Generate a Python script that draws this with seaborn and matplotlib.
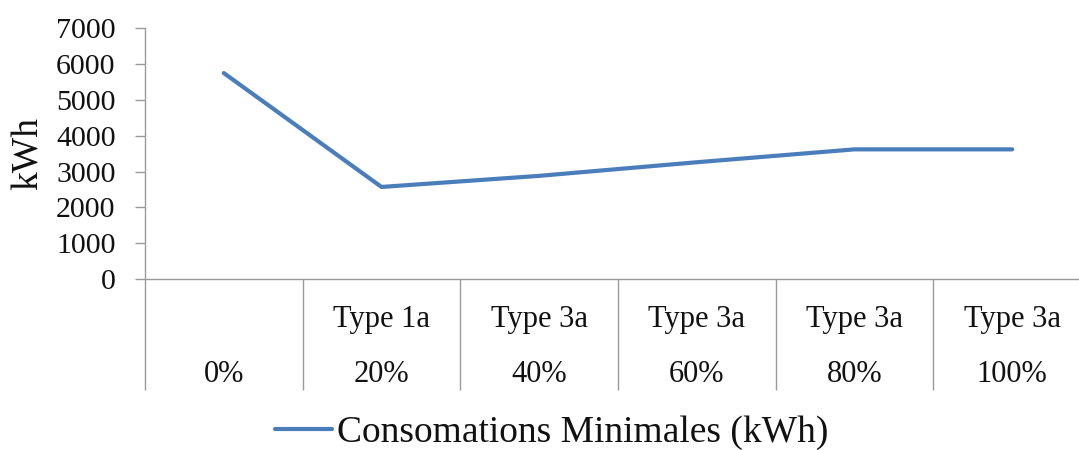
import matplotlib
matplotlib.use("Agg")
import matplotlib.pyplot as plt
import seaborn as sns
import pandas as pd

# Data
pct_labels = ["0%", "20%", "40%", "60%", "80%", "100%"]
type_labels = ["", "Type 1a", "Type 3a", "Type 3a", "Type 3a", "Type 3a"]
consommation = [5750, 2570, 2880, 3260, 3620, 3620]
series_name = "Consomations Minimales (kWh)"
y_ticks = [0, 1000, 2000, 3000, 4000, 5000, 6000, 7000]
y_label = "kWh"

df = pd.DataFrame({"cat": pct_labels, "val": consommation})

sns.set_style("white")
plt.rcParams["font.family"] = ["Liberation Serif", "DejaVu Serif"]

W, H = 1079, 450
fig = plt.figure(figsize=(W / 100, H / 100), dpi=100)
left, right, bottom, top = 145, 1091, 279, 28.3
ax = fig.add_axes([left / W, (H - bottom) / H, (right - left) / W, (bottom - top) / H])

line_color = "#4A7EBB"
sns.lineplot(data=df, x="cat", y="val", ax=ax, color=line_color, linewidth=3.0,
             label=series_name, sort=False)

ax.set_xlim(-0.5, 5.5)
ax.set_ylim(0, 7000)
ax.set_yticks(y_ticks)
ax.set_yticklabels([str(v) for v in y_ticks], fontsize=21.5, color="#111111")

axis_col = "#9a9a9a"
for s in ["top", "right"]:
    ax.spines[s].set_visible(False)
for s in ["left", "bottom"]:
    ax.spines[s].set_color(axis_col)
    ax.spines[s].set_linewidth(1.0)

ax.tick_params(axis="y", direction="out", length=7.2, width=1.0, color=axis_col,
               pad=14, left=True)

# category axis: separators below axis
n = len(pct_labels)
ax.set_xticks(range(n))
ax.set_xticklabels([])
ax.tick_params(axis="x", which="major", length=0)
ax.set_xticks([i - 0.5 for i in range(n)], minor=True)
ax.tick_params(axis="x", which="minor", direction="out", length=80, width=1.0,
               color=axis_col, bottom=True)

trans = ax.get_xaxis_transform()
axh = bottom - top
for i in range(n):
    if type_labels[i]:
        ax.text(i, (bottom - 320) / axh, type_labels[i], transform=trans,
                ha="center", va="center", fontsize=22, color="#111111")
    ax.text(i, (bottom - 375) / axh, pct_labels[i], transform=trans,
            ha="center", va="center", fontsize=22, color="#111111")

ax.set_xlabel("")
ax.set_ylabel("")
fig.text(28 / W, (H - 153) / H, y_label, rotation=90, ha="center", va="center",
         fontsize=27, color="#111111")

leg = ax.legend(loc="center", bbox_to_anchor=(552 / W, (H - 433) / H),
                bbox_transform=fig.transFigure, frameon=False, fontsize=27,
                handlelength=1.5, handletextpad=0.15, borderpad=0)
for t in leg.get_texts():
    t.set_color("#111111")

fig.savefig("out.png", dpi=100)
